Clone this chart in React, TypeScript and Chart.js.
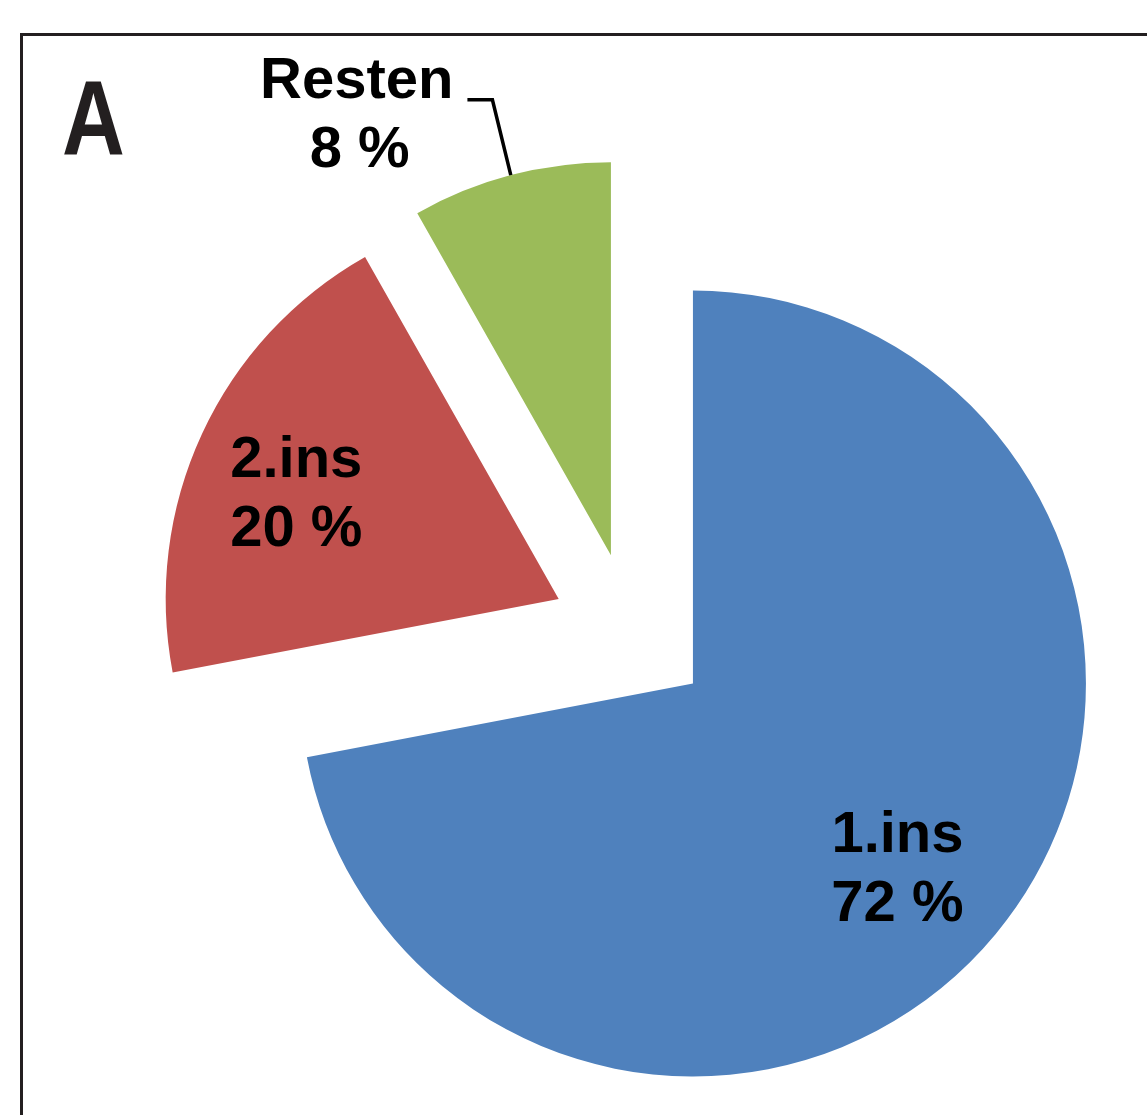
import React, { useEffect, useRef } from 'react';
import { Chart, registerables } from 'chart.js';

Chart.register(...registerables);

// ---- data ----
const categories = ['1.ins', '2.ins', 'Resten'];
const values = [72.0, 19.8, 8.2];
const colors = ['#4F81BD', '#C0504D', '#9BBB59'];
const panelLabel = 'A';

// ---- layout / style ----
const W = 1147;
const H = 1115;
const RADIUS = 393;
const EXPLODE = 80;
const LABEL_FONT = 'bold 58px "Liberation Sans", Arial, Helvetica, sans-serif';
const PANEL_FONT = 'bold 106px "Liberation Sans", Arial, Helvetica, sans-serif';
const LINE_GAP = 69;
const labelPlacement = [
  { mode: 'inside', frac: 0.697, nudge: 2.1 },
  { mode: 'inside', frac: 0.722, nudge: -2.5 },
  { mode: 'outside', frac: 0, nudge: 0 },
];

const explodePlugin = {
  id: 'explodeSlices',
  afterDatasetUpdate(chart: any, args: any) {
    const meta = chart.getDatasetMeta(args.index);
    meta.data.forEach((arc: any) => {
      const mid = (arc.startAngle + arc.endAngle) / 2;
      arc.x += Math.cos(mid) * EXPLODE;
      arc.y += Math.sin(mid) * EXPLODE;
    });
  },
};

const decorPlugin = {
  id: 'decor',
  afterDraw(chart: any) {
    const ctx = chart.ctx as CanvasRenderingContext2D;
    // frame
    ctx.save();
    ctx.strokeStyle = '#231f20';
    ctx.lineWidth = 3;
    ctx.beginPath();
    ctx.moveTo(21.5, H + 5);
    ctx.lineTo(21.5, 34.5);
    ctx.lineTo(W + 5, 34.5);
    ctx.stroke();
    ctx.restore();

    // panel letter
    ctx.save();
    ctx.fillStyle = '#231f20';
    ctx.font = PANEL_FONT;
    ctx.textAlign = 'left';
    ctx.textBaseline = 'alphabetic';
    ctx.translate(62, 155);
    ctx.scale(0.82, 1);
    ctx.fillText(panelLabel, 0, 0);
    ctx.restore();

    // slice labels
    const total = values.reduce((a, b) => a + b, 0);
    const meta = chart.getDatasetMeta(0);
    ctx.save();
    ctx.font = LABEL_FONT;
    ctx.fillStyle = '#000';
    ctx.textAlign = 'center';
    ctx.textBaseline = 'alphabetic';
    meta.data.forEach((arc: any, i: number) => {
      const place = labelPlacement[i];
      const mid = (arc.startAngle + arc.endAngle) / 2;
      const line1 = categories[i];
      const line2 = `${Math.round((values[i] / total) * 100)} %`;
      if (place.mode === 'inside') {
        const a = mid + (place.nudge * Math.PI) / 180;
        const r = arc.outerRadius * place.frac;
        const cx = arc.x + Math.cos(a) * r;
        const cy = arc.y + Math.sin(a) * r;
        ctx.fillText(line1, cx, cy - 14);
        ctx.fillText(line2, cx, cy - 14 + LINE_GAP);
      } else {
        const p0x = arc.x + Math.cos(mid) * arc.outerRadius;
        const p0y = arc.y + Math.sin(mid) * arc.outerRadius;
        const p1x = arc.x + Math.cos(mid) * (arc.outerRadius + 80) + 2;
        const p1y = arc.y + Math.sin(mid) * (arc.outerRadius + 80) + 2;
        const p2x = p1x - 25;
        ctx.save();
        ctx.strokeStyle = '#000';
        ctx.lineWidth = 3.5;
        ctx.lineJoin = 'miter';
        ctx.beginPath();
        ctx.moveTo(p0x, p0y);
        ctx.lineTo(p1x, p1y);
        ctx.lineTo(p2x, p1y);
        ctx.stroke();
        ctx.restore();
        const w = Math.max(ctx.measureText(line1).width, ctx.measureText(line2).width);
        const cx = p2x - 14 - w / 2;
        ctx.fillText(line1, cx, p1y - 2);
        ctx.fillText(line2, cx + 3, p1y - 2 + LINE_GAP);
      }
    });
    ctx.restore();
  },
};

export default function App() {
  const ref = useRef<HTMLCanvasElement | null>(null);
  useEffect(() => {
    if (!ref.current) return;
    const chart = new Chart(ref.current, {
      type: 'pie',
      data: {
        labels: categories,
        datasets: [
          {
            data: values,
            backgroundColor: colors,
            borderWidth: 0,
            radius: RADIUS,
          } as any,
        ],
      },
      options: {
        responsive: false,
        animation: false,
        events: [],
        radius: RADIUS,
        layout: { padding: { left: 115.6, top: 150, right: 0, bottom: 0 } },
        plugins: {
          legend: { display: false },
          tooltip: { enabled: false },
        },
      } as any,
      plugins: [explodePlugin, decorPlugin],
    });
    return () => chart.destroy();
  }, []);
  return (
    <div style={{ position: 'absolute', left: 0, top: 0, width: W, height: H, background: '#fff' }}>
      <canvas ref={ref} width={W} height={H} style={{ width: W, height: H, display: 'block' }} />
    </div>
  );
}
